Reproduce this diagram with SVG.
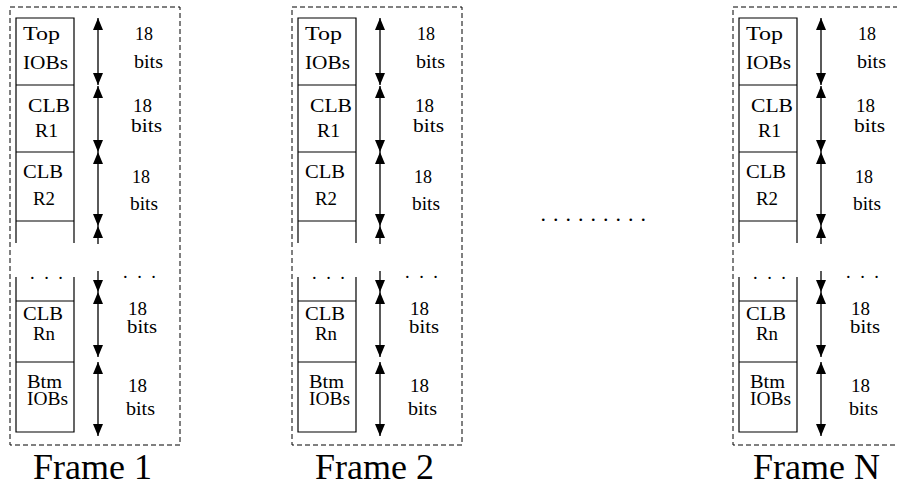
<svg xmlns="http://www.w3.org/2000/svg" width="897" height="487" viewBox="0 0 897 487">
<style>
  .frame { fill: none; stroke: #000; stroke-width: 1; stroke-dasharray: 5 3; }
  .cell { fill: none; stroke: #000; stroke-width: 1.2; }
  .t { font-family: "Liberation Serif", "Times New Roman", serif; font-size: 18.5px; fill: #000; }
  .title { font-family: "Liberation Serif", "Times New Roman", serif; font-size: 36px; fill: #000; }
  .dots { letter-spacing: 9.5px; }
  .arr { stroke: #000; stroke-width: 1.3; fill: none; }
  .both { marker-start: url(#ah); marker-end: url(#ah); }
  .start { marker-start: url(#ah); }
  .end { marker-end: url(#ah); }
</style>
<defs>
  <marker id="ah" markerUnits="userSpaceOnUse" markerWidth="12" markerHeight="10" viewBox="0 0 12 10" refX="12" refY="5" orient="auto-start-reverse">
    <path d="M0,0 L12,5 L0,10 Z" fill="#000"/>
  </marker>
  <g id="frameTpl">
    <rect class="frame" x="10" y="7" width="170" height="438"/>
    <g id="cells">
      <path class="cell" d="M16,243 V18 H74 V243 M16,85 H74 M16,152 H74 M16,221 H74"/>
      <path class="cell" d="M16,277 V432 H74 V277 M16,301 H74 M16,362 H74"/>
    </g>
    <g class="arrows">
      <line class="arr both" x1="98" y1="18" x2="98" y2="85"/>
      <line class="arr both" x1="98" y1="86" x2="98" y2="152"/>
      <line class="arr both" x1="98" y1="152" x2="98" y2="226"/>
      <line class="arr start" x1="98" y1="226" x2="98" y2="244"/>
      <line class="arr end" x1="98" y1="271" x2="98" y2="292"/>
      <line class="arr both" x1="98" y1="292" x2="98" y2="357"/>
      <line class="arr both" x1="98" y1="362" x2="98" y2="436"/>
    </g>
    <text class="t" x="23" y="40" textLength="37" lengthAdjust="spacingAndGlyphs">Top</text>
    <text class="t" x="23" y="69" textLength="45" lengthAdjust="spacingAndGlyphs">IOBs</text>
    <text class="t" x="135" y="40" textLength="18" lengthAdjust="spacingAndGlyphs">18</text>
    <text class="t" x="134" y="68" textLength="29" lengthAdjust="spacingAndGlyphs">bits</text>
    <text class="t" x="28" y="112" textLength="42" lengthAdjust="spacingAndGlyphs">CLB</text>
    <text class="t" x="35" y="137" textLength="23" lengthAdjust="spacingAndGlyphs">R1</text>
    <text class="t" x="133" y="112" textLength="19" lengthAdjust="spacingAndGlyphs">18</text>
    <text class="t" x="131" y="132" textLength="31" lengthAdjust="spacingAndGlyphs">bits</text>
    <text class="t" x="23" y="178" textLength="40" lengthAdjust="spacingAndGlyphs">CLB</text>
    <text class="t" x="33" y="205" textLength="22" lengthAdjust="spacingAndGlyphs">R2</text>
    <text class="t" x="132" y="183" textLength="18" lengthAdjust="spacingAndGlyphs">18</text>
    <text class="t" x="130" y="210" textLength="28" lengthAdjust="spacingAndGlyphs">bits</text>
    <text class="t dots" x="30" y="279">...</text>
    <text class="t dots" x="123" y="278">...</text>
    <text class="t" x="23" y="320" textLength="40" lengthAdjust="spacingAndGlyphs">CLB</text>
    <text class="t" x="33" y="340" textLength="22" lengthAdjust="spacingAndGlyphs">Rn</text>
    <text class="t" x="128" y="315" textLength="19" lengthAdjust="spacingAndGlyphs">18</text>
    <text class="t" x="127" y="333" textLength="30" lengthAdjust="spacingAndGlyphs">bits</text>
    <text class="t" x="27" y="388" textLength="35" lengthAdjust="spacingAndGlyphs">Btm</text>
    <text class="t" x="27" y="405" textLength="41" lengthAdjust="spacingAndGlyphs">IOBs</text>
    <text class="t" x="128" y="392" textLength="19" lengthAdjust="spacingAndGlyphs">18</text>
    <text class="t" x="126" y="415" textLength="29" lengthAdjust="spacingAndGlyphs">bits</text>
  </g>
</defs>
<g id="frame1">
  <use href="#frameTpl"/>
  <text class="title" x="33" y="479">Frame 1</text>
</g>
<g id="frame2" transform="translate(282,0)">
  <use href="#frameTpl"/>
  <text class="title" x="33" y="479">Frame 2</text>
</g>
<g id="frameN" transform="translate(723,0)">
  <use href="#frameTpl"/>
  <text class="title" x="30" y="479">Frame N</text>
</g>
<g id="ellipsis">
  <text class="t" x="540.5" y="221" style="font-size:22px;letter-spacing:7px">.........</text>
</g>
</svg>
